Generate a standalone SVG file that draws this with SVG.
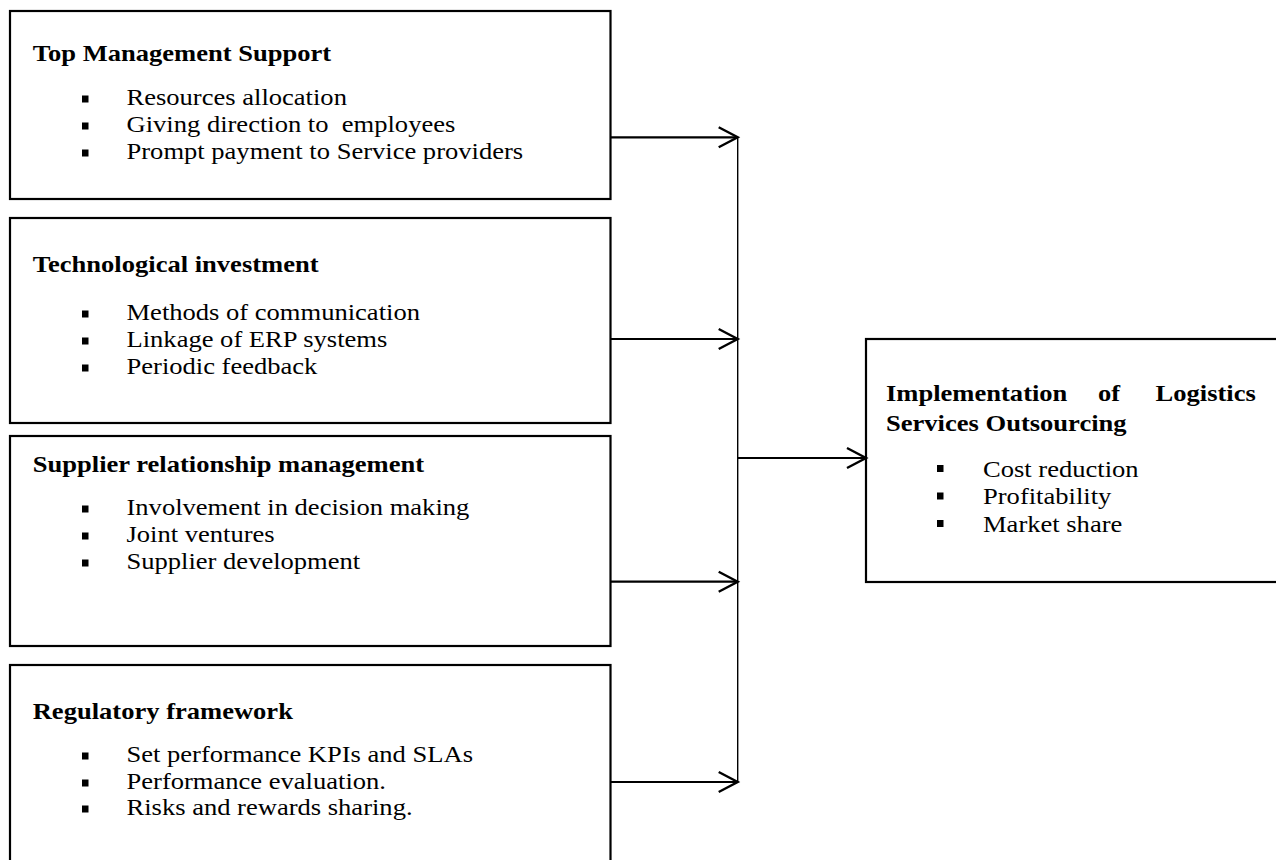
<svg xmlns="http://www.w3.org/2000/svg" width="1276" height="860" viewBox="0 0 1276 860">
<style>
.box{fill:#fff;stroke:#000;stroke-width:2.2}
.h{font-family:"Liberation Serif","Times New Roman",serif;font-weight:bold;font-size:23.3px;fill:#000}
.t{font-family:"Liberation Serif","Times New Roman",serif;font-size:23.3px;fill:#000;white-space:pre}
.b{fill:#000}
.arr{stroke:#000;stroke-width:2.2;fill:none}
.bus{stroke:#000;stroke-width:1.4;fill:none}
</style>
<defs>
<marker id="open" markerUnits="userSpaceOnUse" markerWidth="22" markerHeight="24" refX="19" refY="11" orient="auto" overflow="visible">
<path d="M0,1 L19,11 L0,21" fill="none" stroke="#000" stroke-width="2.4"/>
</marker>
</defs>
<rect width="1276" height="860" fill="#fff"/>

<g id="top-management">
<rect class="box" x="10" y="11" width="600.5" height="188"/>
<text class="h" transform="translate(32.7 61) scale(1.14 1)">Top Management Support</text>
<rect class="b" x="82" y="95.5" width="6.5" height="7"/>
<text class="t" transform="translate(126.5 105) scale(1.14 1)">Resources allocation</text>
<rect class="b" x="82" y="122.5" width="6.5" height="7"/>
<text class="t" xml:space="preserve" transform="translate(126.5 132) scale(1.14 1)">Giving direction to  employees</text>
<rect class="b" x="82" y="149.5" width="6.5" height="7"/>
<text class="t" transform="translate(126.5 159) scale(1.14 1)">Prompt payment to Service providers</text>
</g>

<g id="technological-investment">
<rect class="box" x="10" y="218" width="600.5" height="205"/>
<text class="h" transform="translate(32.7 272) scale(1.14 1)">Technological investment</text>
<rect class="b" x="82" y="310.5" width="6.5" height="7"/>
<text class="t" transform="translate(126.5 320) scale(1.14 1)">Methods of communication</text>
<rect class="b" x="82" y="337.5" width="6.5" height="7"/>
<text class="t" transform="translate(126.5 347) scale(1.14 1)">Linkage of ERP systems</text>
<rect class="b" x="82" y="364.5" width="6.5" height="7"/>
<text class="t" transform="translate(126.5 374) scale(1.14 1)">Periodic feedback</text>
</g>

<g id="supplier-relationship">
<rect class="box" x="10" y="436" width="600.5" height="210"/>
<text class="h" transform="translate(32.7 472) scale(1.14 1)">Supplier relationship management</text>
<rect class="b" x="82" y="505.5" width="6.5" height="7"/>
<text class="t" transform="translate(126.5 515) scale(1.14 1)">Involvement in decision making</text>
<rect class="b" x="82" y="532.5" width="6.5" height="7"/>
<text class="t" transform="translate(126.5 542) scale(1.14 1)">Joint ventures</text>
<rect class="b" x="82" y="559.5" width="6.5" height="7"/>
<text class="t" transform="translate(126.5 569) scale(1.14 1)">Supplier development</text>
</g>

<g id="regulatory-framework">
<rect class="box" x="10" y="665" width="600.5" height="220"/>
<text class="h" transform="translate(32.7 719) scale(1.14 1)">Regulatory framework</text>
<rect class="b" x="82" y="752.5" width="6.5" height="7"/>
<text class="t" transform="translate(126.5 762) scale(1.14 1)">Set performance KPIs and SLAs</text>
<rect class="b" x="82" y="779.5" width="6.5" height="7"/>
<text class="t" transform="translate(126.5 789) scale(1.14 1)">Performance evaluation.</text>
<rect class="b" x="82" y="805.5" width="6.5" height="7"/>
<text class="t" transform="translate(126.5 815) scale(1.14 1)">Risks and rewards sharing.</text>
</g>

<g id="implementation">
<rect class="box" x="866" y="339" width="430" height="243"/>
<text class="h" transform="translate(886 401) scale(1.14 1)">Implementation</text>
<text class="h" transform="translate(1098 401) scale(1.14 1)">of</text>
<text class="h" transform="translate(1155.5 401) scale(1.14 1)">Logistics</text>
<text class="h" transform="translate(886 431) scale(1.14 1)">Services Outsourcing</text>
<rect class="b" x="937" y="465" width="6.5" height="7"/>
<text class="t" transform="translate(983 476.5) scale(1.14 1)">Cost reduction</text>
<rect class="b" x="937" y="492.5" width="6.5" height="7"/>
<text class="t" transform="translate(983 504) scale(1.14 1)">Profitability</text>
<rect class="b" x="937" y="520" width="6.5" height="7"/>
<text class="t" transform="translate(983 531.5) scale(1.14 1)">Market share</text>
</g>

<g id="connectors">
<line class="arr" x1="611" y1="137.3" x2="737.7" y2="137.3" marker-end="url(#open)"/>
<line class="arr" x1="611" y1="339" x2="737.7" y2="339" marker-end="url(#open)"/>
<line class="arr" x1="611" y1="581.7" x2="737.7" y2="581.7" marker-end="url(#open)"/>
<line class="arr" x1="611" y1="782" x2="737.7" y2="782" marker-end="url(#open)"/>
<line class="bus" x1="737.7" y1="137.3" x2="737.7" y2="782"/>
<line class="arr" x1="737.7" y1="458" x2="866" y2="458" marker-end="url(#open)"/>
</g>
</svg>
